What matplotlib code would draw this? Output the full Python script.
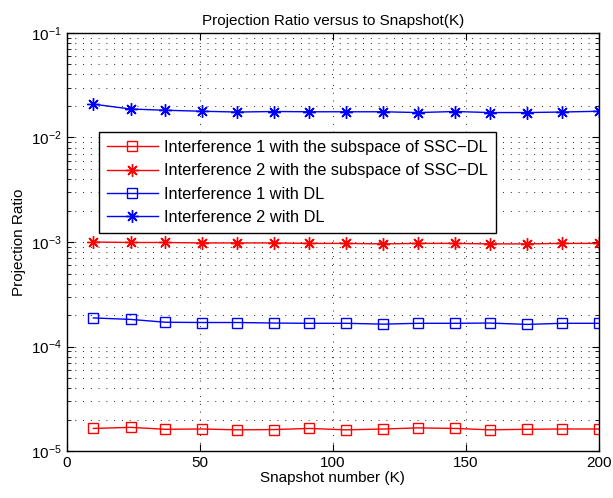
import numpy as np
import matplotlib.pyplot as plt
from matplotlib.ticker import LogLocator, NullFormatter

plt.rcParams['font.family'] = ['Liberation Sans', 'DejaVu Sans']
plt.rcParams['mathtext.fontset'] = 'custom'
plt.rcParams['mathtext.rm'] = 'Liberation Sans'

# snapshot numbers
K = [10, 24, 37, 51, 64, 78, 91, 105, 119, 132, 146, 159, 173, 186, 200]

# projection ratios
ssc_int1 = [1.65e-5, 1.69e-5, 1.62e-5, 1.63e-5, 1.60e-5, 1.61e-5, 1.65e-5, 1.60e-5,
            1.63e-5, 1.67e-5, 1.65e-5, 1.60e-5, 1.62e-5, 1.63e-5, 1.63e-5]
ssc_int2 = [1.00e-3, 0.99e-3, 0.99e-3, 0.98e-3, 0.98e-3, 0.98e-3, 0.97e-3, 0.97e-3,
            0.96e-3, 0.97e-3, 0.97e-3, 0.96e-3, 0.96e-3, 0.97e-3, 0.97e-3]
dl_int1 = [1.88e-4, 1.82e-4, 1.71e-4, 1.70e-4, 1.70e-4, 1.68e-4, 1.67e-4, 1.67e-4,
           1.64e-4, 1.67e-4, 1.67e-4, 1.68e-4, 1.63e-4, 1.67e-4, 1.67e-4]
dl_int2 = [0.0208, 0.0187, 0.0182, 0.0178, 0.0175, 0.0177, 0.0176, 0.0176,
           0.0176, 0.0173, 0.0177, 0.0173, 0.0173, 0.0175, 0.0178]

labels = ["Interference 1 with the subspace of SSC\u2212DL",
          "Interference 2 with the subspace of SSC\u2212DL",
          "Interference 1 with DL",
          "Interference 2 with DL"]

star = (8, 2, 0)  # asterisk marker (+ and x overlaid)

fig = plt.figure(figsize=(6.13, 4.98), dpi=100)
ax = fig.add_axes([0.109, 0.094, 0.868, 0.840])

ax.semilogy(K, ssc_int1, 'r-', marker='s', mfc='none', ms=7, lw=1, mew=1, label=labels[0])
ax.semilogy(K, ssc_int2, 'r-', marker=star, ms=9, lw=1, mew=1, label=labels[1])
ax.semilogy(K, dl_int1, 'b-', marker='s', mfc='none', ms=7, lw=1, mew=1, label=labels[2])
ax.semilogy(K, dl_int2, 'b-', marker=star, ms=9, lw=1, mew=1, label=labels[3])

ax.set_xlim(0, 200)
ax.set_ylim(1e-5, 1e-1)
ax.set_xticks([0, 50, 100, 150, 200])
ax.yaxis.set_major_locator(LogLocator(base=10, numticks=10))
ax.yaxis.set_minor_locator(LogLocator(base=10, subs=np.arange(2, 10), numticks=10))
ax.yaxis.set_minor_formatter(NullFormatter())

ax.tick_params(which='both', direction='in', top=True, right=True, labelsize=11)
ax.tick_params(which='major', length=5)
ax.tick_params(which='minor', length=3)
dots = (0, (1, 7))
ax.grid(True, which='major', linestyle=dots, color='0.15', lw=0.7)
ax.grid(True, which='minor', axis='y', linestyle=dots, color='0.15', lw=0.7)
for s in ax.spines.values():
    s.set_linewidth(1)

ax.set_title("Projection Ratio versus to Snapshot(K)", fontsize=11)
ax.set_xlabel("Snapshot number (K)", fontsize=11, labelpad=1)
ax.set_ylabel("Projection Ratio", fontsize=11)

leg = ax.legend(loc='upper left', bbox_to_anchor=(0.06, 0.763), borderaxespad=0,
                fontsize=11.8, handlelength=3.1, handletextpad=0.4,
                borderpad=0.5, labelspacing=0.5,
                fancybox=False, framealpha=1, edgecolor='k')
leg.get_frame().set_linewidth(1)

fig.savefig("out.png", dpi=100)
